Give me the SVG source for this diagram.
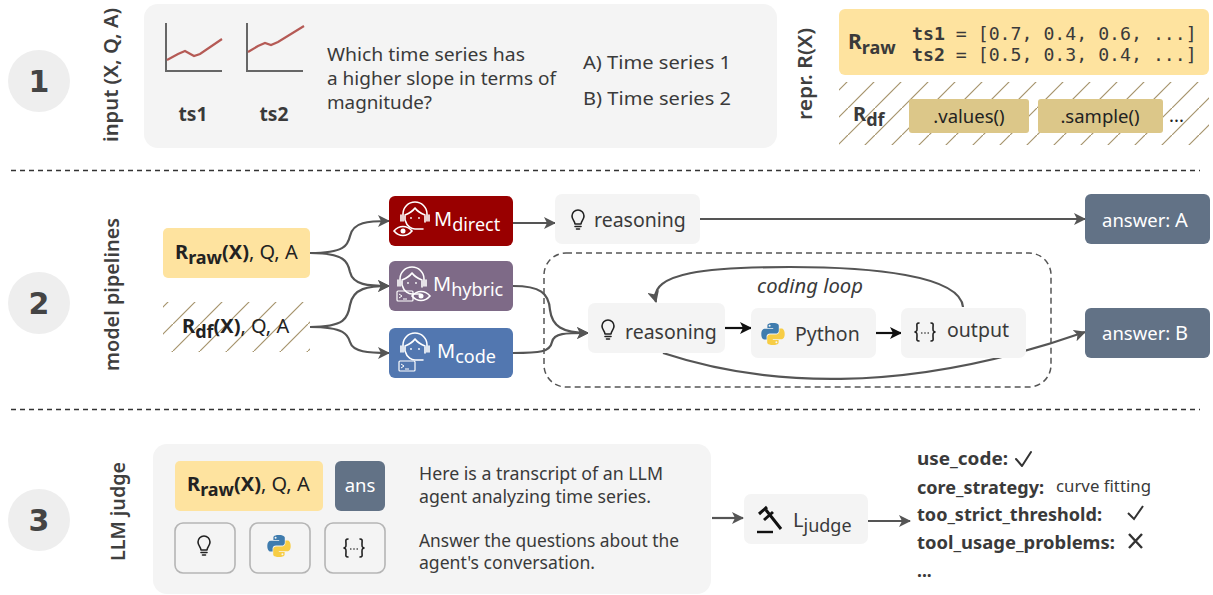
<svg xmlns="http://www.w3.org/2000/svg" xmlns:xlink="http://www.w3.org/1999/xlink" width="1213" height="595" viewBox="0 0 1213 595">
<style>
text{font-family:"Noto Sans","DejaVu Sans",sans-serif;fill:#3a3a3a}
.b{font-weight:700}
.m{font-family:"DejaVu Sans Mono",monospace;font-size:18.2px}
.w{fill:#fff}
.blk{fill:#222}
.lab{font-size:19px;font-weight:600;fill:#3f3f3f}
.num{font-family:"DejaVu Sans",sans-serif;font-weight:700;font-size:30px;text-anchor:middle;fill:#444}
.q{font-size:18.5px}
.conn{fill:none;stroke:#555;stroke-width:2.2}
.cb{fill:none;stroke:#111;stroke-width:2.2}
.sep{stroke:#333;stroke-width:1.5;stroke-dasharray:5 4}
.ctr{fill:#eeeeee}
.panel{fill:#f4f4f4}
.y{fill:#fee39f}
.ans{fill:#627286}
.ibox{fill:#f4f4f4;stroke:#b5b5b5;stroke-width:1.6}
.ax{fill:none;stroke:#666;stroke-width:2}
.ser{fill:none;stroke:#b55a55;stroke-width:2.2}
.ic{fill:none;stroke:#fff;stroke-width:1.6;stroke-linecap:round;stroke-linejoin:round}
.dk{fill:none;stroke:#222;stroke-width:1.6;stroke-linecap:round;stroke-linejoin:round}
</style>
<defs>
<marker id="ah" viewBox="0 0 12 12" refX="11" refY="6" markerWidth="12" markerHeight="12" markerUnits="userSpaceOnUse" orient="auto"><path d="M0 0L12 6L0 12L3 6Z" fill="#555"/></marker>
<marker id="ak" viewBox="0 0 12 12" refX="11" refY="6" markerWidth="12" markerHeight="12" markerUnits="userSpaceOnUse" orient="auto"><path d="M0 0L12 6L0 12L3 6Z" fill="#111"/></marker>
<pattern id="hatch" width="27" height="27" patternUnits="userSpaceOnUse" patternTransform="translate(11,0)"><path d="M-2 29L29 -2" stroke="#a5936b" stroke-width="1.2"/></pattern>
<g id="head"><path class="ic" d="M-12 3V-4A12 12 0 0 1 12 -4V3"/><path class="ic" d="M-10 -3C-5 -5 -2 -7 0 -10C2 -7 5 -5 10 -3M-10 -2V2C-8 9 -3 11 0 11H8"/><path class="ic" d="M10 -2V4"/><path class="ic" d="M-14 -3V3M14 -3V3"/><circle cx="-4" cy="0" r="0.9" fill="#fff"/><circle cx="4" cy="0" r="0.9" fill="#fff"/></g>
<g id="eye"><path d="M-9 0C-4 -6 4 -6 9 0C4 6 -4 6 -9 0Z" fill="none" stroke="#fff" stroke-width="1.6"/><circle r="2.5" fill="#fff"/></g>
<g id="term"><rect x="-8" y="-5" width="16" height="10" rx="1" fill="none" stroke="#fff" stroke-width="1.2"/><path d="M-6 -2L-3 0L-6 2M-2 3H2" fill="none" stroke="#fff" stroke-width="1"/></g>
<g id="bulb"><path class="dk" d="M-3 4C-3 1 -6 0 -6 -4A6 6 0 0 1 6 -4C6 0 3 1 3 4Z"/><path class="dk" d="M-3 6.5H3M-1.5 9H1.5"/></g>
<g id="py"><path d="M-0.2 -11C-6 -11 -5.6 -8.5 -5.6 -8.5V-6H0.2V-5.2H-7.9C-7.9 -5.2 -11.7 -5.6 -11.7 0.1C-11.7 5.8 -8.4 5.6 -8.4 5.6H-6.4V2.9C-6.4 2.9 -6.5 -0.4 -3.1 -0.4H2.6C2.6 -0.4 5.8 -0.3 5.8 -3.5V-8.2C5.8 -8.2 6.3 -11 -0.2 -11ZM-3.4 -9.2A1 1 0 1 1 -3.4 -7.2A1 1 0 1 1 -3.4 -9.2Z" fill="#3f7cae" fill-rule="evenodd"/><path d="M0.2 11C6 11 5.6 8.5 5.6 8.5V6H-0.2V5.2H7.9C7.9 5.2 11.7 5.6 11.7 -0.1C11.7 -5.8 8.4 -5.6 8.4 -5.6H6.4V-2.9C6.4 -2.9 6.5 0.4 3.1 0.4H-2.6C-2.6 0.4 -5.8 0.3 -5.8 3.5V8.2C-5.8 8.2 -6.3 11 0.2 11ZM3.4 9.2A1 1 0 1 1 3.4 7.2A1 1 0 1 1 3.4 9.2Z" fill="#f7cd45" fill-rule="evenodd"/></g>
<g id="brace"><path class="dk" stroke-width="1.3" d="M-6 -9C-9 -9 -8 -7 -8 -4C-8 -1 -8 -1 -10 0C-8 1 -8 1 -8 4C-8 7 -9 9 -6 9M6 -9C9 -9 8 -7 8 -4C8 -1 8 -1 10 0C8 1 8 1 8 4C8 7 9 9 6 9"/><circle cx="-3.2" cy="1" r="0.8" fill="#222"/><circle cx="0" cy="1" r="0.8" fill="#222"/><circle cx="3.2" cy="1" r="0.8" fill="#222"/></g>
</defs>

<g id="step-1">
<circle class="ctr" cx="39" cy="81" r="31"/><text class="num" x="39" y="92">1</text>
<text class="lab" transform="translate(118,142) rotate(-90)" textLength="134" lengthAdjust="spacingAndGlyphs">input (X, Q, A)</text>
</g>
<g id="input-panel">
<rect class="panel" x="144" y="4" width="633" height="144" rx="14"/>
<path class="ax" d="M166 23V71H222M247 23V71H303"/>
<path class="ser" d="M167 60L178 54L185 51L194 56L200 54L222 39M248 52L258 46L265 43L271 45L278 42L304 26"/>
<text class="b" x="193" y="121" font-size="20" text-anchor="middle" textLength="29" lengthAdjust="spacingAndGlyphs">ts1</text>
<text class="b" x="274" y="121" font-size="20" text-anchor="middle" textLength="29" lengthAdjust="spacingAndGlyphs">ts2</text>
<text class="q" x="327" y="61" textLength="198" lengthAdjust="spacingAndGlyphs">Which time series has</text>
<text class="q" x="327" y="85" textLength="229" lengthAdjust="spacingAndGlyphs">a higher slope in terms of</text>
<text class="q" x="327" y="109" textLength="105" lengthAdjust="spacingAndGlyphs">magnitude?</text>
<text class="q" x="583" y="69" textLength="148" lengthAdjust="spacingAndGlyphs">A) Time series 1</text>
<text class="q" x="583" y="105" textLength="148" lengthAdjust="spacingAndGlyphs">B) Time series 2</text>
</g>
<g id="repr">
<text class="lab" transform="translate(812,120) rotate(-90)" textLength="92" lengthAdjust="spacingAndGlyphs">repr. R(X)</text>
<rect class="y" x="839" y="9" width="370" height="66" rx="6"/>
<text class="b" x="848" y="49" font-size="21">R<tspan font-size="18" dy="5">raw</tspan></text>
<text class="m" x="912" y="40" xml:space="preserve"><tspan font-weight="700">ts1</tspan> = [0.7, 0.4, 0.6, ...]</text>
<text class="m" x="912" y="61" xml:space="preserve"><tspan font-weight="700">ts2</tspan> = [0.5, 0.3, 0.4, ...]</text>
<rect x="839" y="82" width="370" height="63" fill="url(#hatch)"/>
<text class="b" x="853" y="121" font-size="20">R<tspan font-size="18" dy="5">df</tspan></text>
<rect x="909" y="99" width="120" height="34" rx="3" fill="#dcc789"/>
<text x="969" y="123" font-size="18.5" text-anchor="middle" class="blk">.values()</text>
<rect x="1038" y="99" width="125" height="34" rx="3" fill="#dcc789"/>
<text x="1100" y="123" font-size="18.5" text-anchor="middle" class="blk">.sample()</text>
<text x="1169" y="122" font-size="18.5" class="blk">...</text>
</g>
<path class="sep" d="M11 170.5H1200M11 409.5H1200"/>

<g id="step-2">
<circle class="ctr" cx="39" cy="303" r="31"/><text class="num" x="39" y="314">2</text>
<text class="lab" transform="translate(119,371) rotate(-90)" textLength="153" lengthAdjust="spacingAndGlyphs">model pipelines</text>
</g>
<g id="connectors">
<path class="conn" marker-end="url(#ah)" d="M310 253C345 253 348 245 350 236C353 222 368 221 389 221"/>
<path class="conn" marker-end="url(#ah)" d="M310 253C345 253 348 262 350 272C353 285 368 286 389 286"/>
<path class="conn" marker-end="url(#ah)" d="M310 327C345 327 348 318 350 305C353 288 368 286 389 286"/>
<path class="conn" marker-end="url(#ah)" d="M310 327C345 327 348 335 350 342C353 352 368 353 389 353"/>
<path class="conn" marker-end="url(#ah)" d="M513 223H555"/>
<path class="conn" marker-end="url(#ah)" d="M700 219H1085"/>
<path class="conn" marker-end="url(#ah)" d="M513 286C540 286 549 293 550 310C552 326 562 333 588 333"/>
<path class="conn" marker-end="url(#ah)" d="M513 353C540 353 550 352 552 342C554 333 565 333 588 333"/>
<path class="cb" marker-end="url(#ak)" d="M725 328H751"/>
<path class="cb" marker-end="url(#ak)" d="M876 333H901"/>
<path class="conn" marker-end="url(#ah)" d="M963 307C960 275 870 267 790 267C710 267 648 272 656 302"/>
<path class="conn" marker-end="url(#ah)" d="M663 353C760 385 900 397 1085 332"/>
<path class="conn" marker-end="url(#ah)" d="M712 518H743"/>
<path class="conn" marker-end="url(#ah)" d="M868 521H910"/>
</g>
<g id="r-raw"><rect class="y" x="163" y="228" width="147" height="50" rx="5"/>
<text x="175" y="259" font-size="20" class="blk"><tspan class="b">R<tspan font-size="18" dy="5">raw</tspan><tspan dy="-5">(X)</tspan></tspan>, Q, A</text></g>
<g id="r-df"><rect x="163" y="302" width="147" height="50" fill="url(#hatch)"/>
<text x="182" y="333" font-size="20" class="blk"><tspan class="b">R<tspan font-size="18" dy="5">df</tspan><tspan dy="-5">(X)</tspan></tspan>, Q, A</text></g>
<g id="m-direct"><rect x="389" y="196" width="124" height="50" rx="6" fill="#990000"/>
<use href="#head" x="415" y="218"/><use href="#eye" x="403" y="231"/>
<text class="w" x="434" y="226" font-size="20">M<tspan font-size="18" dy="5">direct</tspan></text></g>
<g id="m-hybrid"><rect x="389" y="261" width="124" height="50" rx="6" fill="#7e6a87"/>
<use href="#head" x="412" y="283"/><use href="#term" x="405" y="296"/><use href="#eye" x="421" y="296"/>
<text class="w" x="433" y="291" font-size="20">M<tspan font-size="18" dy="5">hybric</tspan></text></g>
<g id="m-code"><rect x="389" y="328" width="124" height="50" rx="6" fill="#5277b0"/>
<use href="#head" x="415" y="349"/><use href="#term" x="407" y="366"/>
<text class="w" x="437" y="358" font-size="20">M<tspan font-size="18" dy="5">code</tspan></text></g>
<g id="reasoning-1"><rect class="panel" x="555" y="194" width="145" height="50" rx="7"/><use href="#bulb" x="578" y="220"/>
<text x="594" y="227" font-size="19.5">reasoning</text></g>
<g id="answer-a"><rect class="ans" x="1085" y="194" width="125" height="50" rx="6"/><text class="w" x="1102" y="227" font-size="18.5">answer: <tspan font-size="20">A</tspan></text></g>
<g id="answer-b"><rect class="ans" x="1085" y="308" width="125" height="50" rx="6"/><text class="w" x="1102" y="340" font-size="18.5">answer: <tspan font-size="20">B</tspan></text></g>
<g id="coding-loop"><rect x="544" y="253" width="507" height="134" rx="22" fill="none" stroke="#555" stroke-width="1.5" stroke-dasharray="6 4"/>
<text x="757" y="293" font-size="19" font-style="italic" textLength="106" lengthAdjust="spacingAndGlyphs">coding loop</text></g>
<g id="reasoning-2"><rect class="panel" x="588" y="303" width="137" height="50" rx="7"/><use href="#bulb" x="608" y="330"/>
<text x="625" y="339" font-size="19.5">reasoning</text></g>
<g id="python"><rect class="panel" x="751" y="308" width="125" height="50" rx="7"/><use href="#py" x="773" y="334"/>
<text x="795" y="341" font-size="19.5">Python</text></g>
<g id="output"><rect class="panel" x="901" y="308" width="125" height="50" rx="7"/><use href="#brace" x="925" y="332"/>
<text x="947" y="337" font-size="19.5">output</text></g>

<g id="step-3">
<circle class="ctr" cx="39" cy="520" r="31"/><text class="num" x="39" y="531">3</text>
<text class="lab" transform="translate(125,561) rotate(-90)" textLength="99" lengthAdjust="spacingAndGlyphs">LLM judge</text>
</g>
<g id="judge-prompt">
<rect class="panel" x="153" y="444" width="558" height="150" rx="14"/>
<rect class="y" x="175" y="461" width="148" height="50" rx="5"/>
<text x="187" y="491" font-size="20" class="blk"><tspan class="b">R<tspan font-size="18" dy="5">raw</tspan><tspan dy="-5">(X)</tspan></tspan>, Q, A</text>
<rect class="ans" x="335" y="461" width="50" height="50" rx="6"/><text class="w" x="360" y="492" font-size="18.5" text-anchor="middle">ans</text>
<rect class="ibox" x="175" y="523" width="60" height="50" rx="8"/><use href="#bulb" x="204" y="546"/>
<rect class="ibox" x="250" y="523" width="60" height="50" rx="8"/><use href="#py" x="279" y="546"/>
<rect class="ibox" x="325" y="523" width="60" height="50" rx="8"/><use href="#brace" x="354" y="548"/>
<text x="419" y="480" font-size="17.5" textLength="244" lengthAdjust="spacingAndGlyphs">Here is a transcript of an LLM</text>
<text x="419" y="503" font-size="17.5" textLength="232" lengthAdjust="spacingAndGlyphs">agent analyzing time series.</text>
<text x="419" y="547" font-size="17.5" textLength="260" lengthAdjust="spacingAndGlyphs">Answer the questions about the</text>
<text x="419" y="569" font-size="17.5" textLength="176" lengthAdjust="spacingAndGlyphs">agent's conversation.</text>
</g>
<g id="l-judge"><rect class="panel" x="744" y="494" width="124" height="50" rx="7"/>
<path d="M759 514L767 507M764 520L773 512M766 510L781 529" fill="none" stroke="#111" stroke-width="3"/><path d="M757 532H773" stroke="#111" stroke-width="2.4"/>
<text x="793" y="527" font-size="20">L<tspan font-size="18" dy="5">judge</tspan></text></g>
<g id="judge-output">
<text class="b" x="917" y="465" font-size="17.5" textLength="91" lengthAdjust="spacingAndGlyphs">use_code:</text>
<path class="dk" stroke-width="2" d="M1016 459L1022 466L1031 452" style="stroke:#333;stroke-width:2"/>
<text class="b" x="917" y="494" font-size="17.5" textLength="127" lengthAdjust="spacingAndGlyphs">core_strategy:</text>
<text x="1056" y="492" font-size="17" textLength="95" lengthAdjust="spacingAndGlyphs">curve fitting</text>
<text class="b" x="917" y="521" font-size="17.5" textLength="185" lengthAdjust="spacingAndGlyphs">too_strict_threshold:</text>
<path d="M1128 513L1134 519L1143 506" fill="none" style="stroke:#333;stroke-width:2"/>
<text class="b" x="917" y="549" font-size="17.5" textLength="198" lengthAdjust="spacingAndGlyphs">tool_usage_problems:</text>
<path d="M1129 534L1142 548M1142 534L1129 548" fill="none" style="stroke:#333;stroke-width:2.4"/>
<text class="b" x="917" y="577" font-size="17.5">...</text>
</g>
</svg>
